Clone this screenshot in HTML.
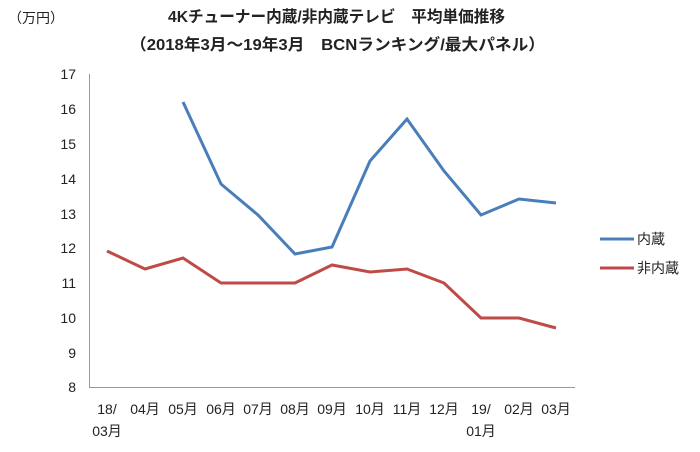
<!DOCTYPE html>
<html><head><meta charset="utf-8"><style>
body{margin:0;background:#fff;}
svg text{font-family:"Liberation Sans","Noto Sans CJK JP",sans-serif;fill:#222;}
</style></head><body>
<svg width="700" height="447" xmlns="http://www.w3.org/2000/svg">
<text x="8" y="23" font-size="14">（万円）</text>
<text x="168" y="22" font-size="16" font-weight="bold" textLength="337" lengthAdjust="spacingAndGlyphs">4Kチューナー内蔵/非内蔵テレビ　平均単価推移</text>
<text x="130" y="50" font-size="16" font-weight="bold" textLength="415" lengthAdjust="spacingAndGlyphs">（2018年3月～19年3月　BCNランキング/最大パネル）</text>
<g font-size="14" text-anchor="end">
<text x="76" y="79">17</text><text x="76" y="114">16</text><text x="76" y="149">15</text>
<text x="76" y="184">14</text><text x="76" y="219">13</text><text x="76" y="253">12</text>
<text x="76" y="288">11</text><text x="76" y="323">10</text><text x="76" y="358">9</text>
<text x="76" y="392">8</text>
</g>
<line x1="89.5" y1="74" x2="89.5" y2="387" stroke="#999"/>
<line x1="89" y1="387.5" x2="575" y2="387.5" stroke="#999"/>
<g font-size="14" text-anchor="middle">
<text x="107" y="414">18/</text><text x="107" y="436">03月</text>
<text x="145" y="414">04月</text><text x="183" y="414">05月</text><text x="221" y="414">06月</text>
<text x="258" y="414">07月</text><text x="295" y="414">08月</text><text x="332" y="414">09月</text>
<text x="370" y="414">10月</text><text x="407" y="414">11月</text><text x="444" y="414">12月</text>
<text x="481" y="414">19/</text><text x="481" y="436">01月</text>
<text x="519" y="414">02月</text><text x="556" y="414">03月</text>
</g>
<polyline fill="none" stroke="#4a7ebb" stroke-width="3" points="183,102 221,184 258,215 295,254 332,247 370,161 407,119 444,171 481,215 519,199 556,203"/>
<polyline fill="none" stroke="#be4b48" stroke-width="3" points="107,251 145,269 183,258 221,283 258,283 295,283 332,265 370,272 407,269 444,283 481,318 519,318 556,328"/>
<line x1="600" y1="239" x2="634" y2="239" stroke="#4a7ebb" stroke-width="3"/>
<text x="637" y="244" font-size="14">内蔵</text>
<line x1="600" y1="268" x2="634" y2="268" stroke="#be4b48" stroke-width="3"/>
<text x="637" y="273" font-size="14">非内蔵</text>
</svg>
</body></html>
